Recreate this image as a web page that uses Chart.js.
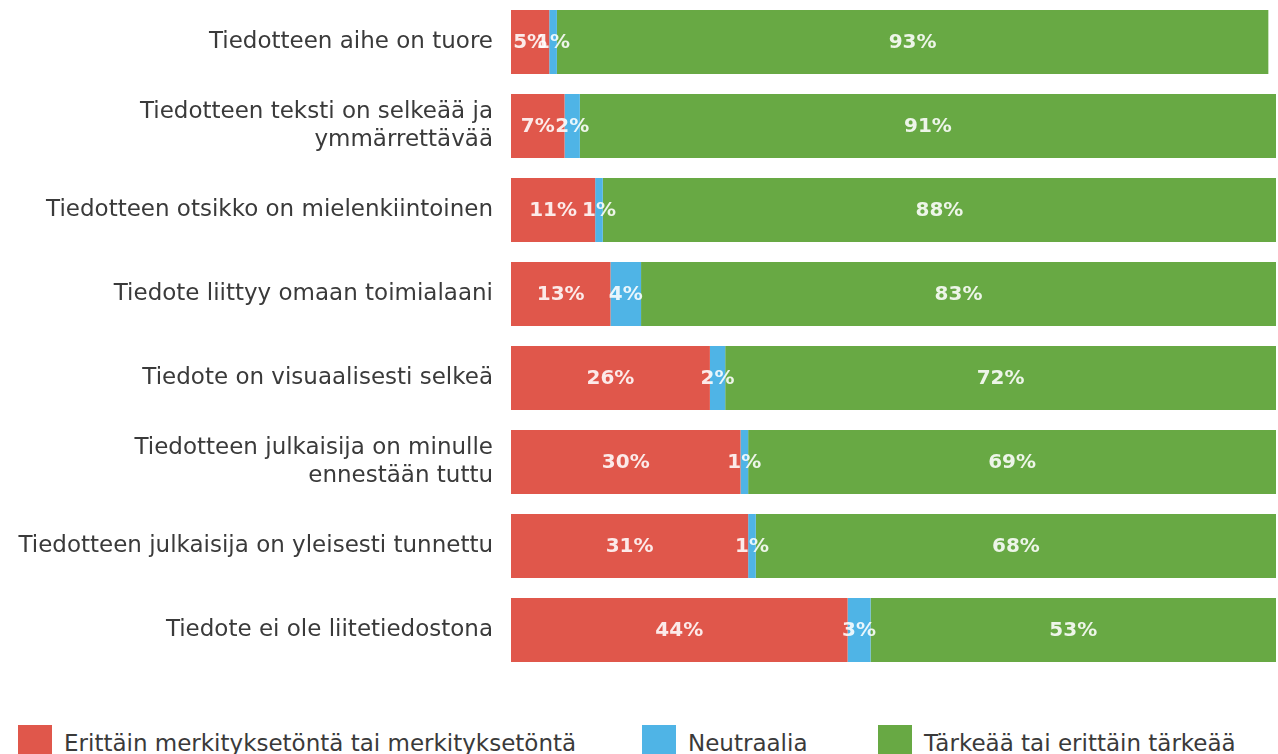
<!DOCTYPE html>
<html lang="fi">
<head>
<meta charset="utf-8">
<title>Tiedotteen tärkeys</title>
<script src="https://cdn.jsdelivr.net/npm/chart.js@4/dist/chart.umd.min.js"></script>
<style>
  body { margin: 0; background: #fff; overflow: hidden; }
  #kehys { position: relative; width: 1278px; height: 754px; }
  #kaavioLaatikko { position: absolute; left: 0; top: 0; width: 1278px; height: 672px; }
  #selite { position: absolute; left: 0; top: 725px; width: 1278px; height: 40px; font-family: "DejaVu Sans", sans-serif; font-size: 23px; color: #3a3a3a; }
  .selite-kohta { position: absolute; top: 0; display: flex; align-items: flex-start; white-space: nowrap; }
  .selite-laatikko { width: 34px; height: 34px; margin-right: 12px; }
  .selite-teksti { line-height: 34px; margin-top: 1px; }
</style>
</head>
<body>
<div id="kehys">
  <div id="kaavioLaatikko"><canvas id="graafiTarkeys"></canvas></div>
  <div id="selite"></div>
</div>
<script>
// Kategoriat (pystyakseli)
const kategoriat = [
  'Tiedotteen aihe on tuore',
  ['Tiedotteen teksti on selkeää ja', 'ymmärrettävää'],
  'Tiedotteen otsikko on mielenkiintoinen',
  'Tiedote liittyy omaan toimialaani',
  'Tiedote on visuaalisesti selkeä',
  ['Tiedotteen julkaisija on minulle', 'ennestään tuttu'],
  'Tiedotteen julkaisija on yleisesti tunnettu',
  'Tiedote ei ole liitetiedostona'
];

// Sarjat (%)
const merkityksetonta = [5, 7, 11, 13, 26, 30, 31, 44];
const neutraalia = [1, 2, 1, 4, 2, 1, 1, 3];
const tarkeaa = [93, 91, 88, 83, 72, 69, 68, 53];

const sarjaNimet = [
  'Erittäin merkityksetöntä tai merkityksetöntä',
  'Neutraalia',
  'Tärkeää tai erittäin tärkeää'
];
const varit = ['#e0574b', '#4fb4e6', '#68a944'];

// Arvot palkkien sisään
const arvoTekstit = {
  id: 'arvoTekstit',
  afterDatasetsDraw(chart) {
    const ctx = chart.ctx;
    ctx.save();
    ctx.font = 'bold 20px "DejaVu Sans", sans-serif';
    ctx.fillStyle = 'rgba(255,255,255,0.88)';
    ctx.textAlign = 'center';
    ctx.textBaseline = 'middle';
    chart.data.datasets.forEach((ds, i) => {
      const meta = chart.getDatasetMeta(i);
      meta.data.forEach((palkki, j) => {
        const p = palkki.getProps(['x', 'y', 'base'], true);
        ctx.fillText(ds.data[j] + '%', (p.x + p.base) / 2, p.y + 1);
      });
    });
    ctx.restore();
  }
};

const sarjat = [merkityksetonta, neutraalia, tarkeaa].map((arvot, i) => ({
  label: sarjaNimet[i],
  data: arvot,
  backgroundColor: varit[i],
  borderWidth: 0,
  categoryPercentage: 1,
  barPercentage: 0.762
}));

new Chart(document.getElementById('graafiTarkeys').getContext('2d'), {
  type: 'bar',
  data: { labels: kategoriat, datasets: sarjat },
  options: {
    indexAxis: 'y',
    responsive: true,
    maintainAspectRatio: false,
    animation: false,
    layout: { padding: { left: 0, right: 2, top: 0, bottom: 0 } },
    scales: {
      x: {
        stacked: true,
        min: 0,
        max: 100,
        display: false
      },
      y: {
        stacked: true,
        grid: { display: false, drawTicks: false },
        border: { display: false },
        ticks: {
          padding: 18,
          color: '#3a3a3a',
          font: { family: '"DejaVu Sans", sans-serif', size: 23 }
        },
        afterFit: (akseli) => {
          akseli.width = 511;
          akseli.paddingTop = 0;
          akseli.paddingBottom = 0;
        }
      }
    },
    plugins: {
      legend: { display: false },
      tooltip: { enabled: false }
    }
  },
  plugins: [arvoTekstit]
});

// Selite HTML:nä
const selitePaikat = [18, 642, 878];
const selite = document.getElementById('selite');
sarjaNimet.forEach((nimi, i) => {
  const kohta = document.createElement('div');
  kohta.className = 'selite-kohta';
  kohta.style.left = selitePaikat[i] + 'px';
  kohta.innerHTML = '<div class="selite-laatikko" style="background:' + varit[i] + '"></div>' +
    '<span class="selite-teksti">' + nimi + '</span>';
  selite.appendChild(kohta);
});
</script>
</body>
</html>
